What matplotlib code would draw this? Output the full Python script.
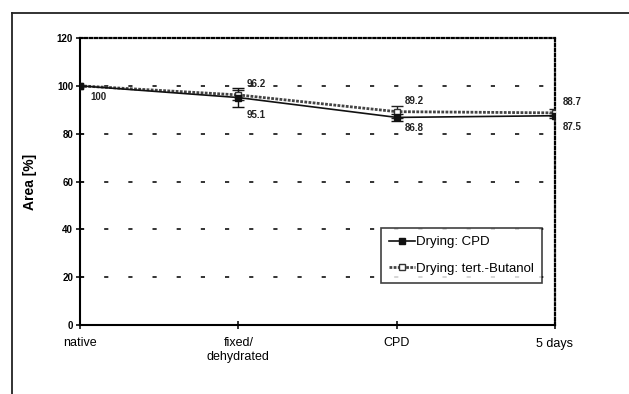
import matplotlib
matplotlib.use("Agg")
import matplotlib.pyplot as plt
from matplotlib.lines import Line2D

categories = ["native", "fixed/\ndehydrated", "CPD", "5 days"]
cpd_values = [100, 95.1, 86.8, 87.5]
cpd_err = [0, 4.0, 1.5, 1.0]
but_values = [100, 96.2, 89.2, 88.7]
but_err = [0, 2.0, 2.5, 1.5]
yticks = [0, 20, 40, 60, 80, 100, 120]

plt.rcParams['font.family'] = ['Liberation Sans', 'DejaVu Sans']

fig = plt.figure(figsize=(6.29, 3.94), dpi=100)
ax = fig.add_axes([80/629, 69/394, 475/629, 287/394])

x = list(range(len(categories)))
ax.errorbar(x, but_values, yerr=but_err, fmt='none', capsize=4,
            ecolor='#222222', elinewidth=1, zorder=3)
ax.errorbar(x, cpd_values, yerr=cpd_err, fmt='none', capsize=4,
            ecolor='#111111', elinewidth=1, zorder=3)
ax.plot(x, but_values, color='#444444', lw=2.0, linestyle=(0, (1, 0.5)),
        marker='s', mfc='white', mec='#333333', ms=4,
        label='Drying: tert.-Butanol', zorder=4)
ax.plot(x, cpd_values, color='#111111', lw=1.2, marker='s', ms=5,
        mfc='#111111', label='Drying: CPD', zorder=5)

ax.set_xlim(0, 3)
ax.set_ylim(0, 120)
ax.set_yticks(yticks)
ax.set_yticklabels([str(v) for v in yticks], fontsize=7, fontweight='bold')
ax.set_xticks(x)
ax.set_xticklabels(categories, fontsize=9)
ax.tick_params(axis='both', direction='inout', length=6, width=1.2, color='#111111')
ax.tick_params(axis='x', pad=6)
ax.tick_params(axis='y', pad=2)

for v in [20, 40, 60, 80, 100]:
    ax.axhline(v, color='#111111', lw=1.2, linestyle=(0, (2.5, 12)), zorder=1)

ax.spines['left'].set_linewidth(1.5)
ax.spines['bottom'].set_linewidth(1.5)
for s in ['top', 'right']:
    ax.spines[s].set_linestyle((0, (1, 1.2)))
    ax.spines[s].set_linewidth(1.6)

ax.set_ylabel('Area [%]', fontsize=10, fontweight='bold', labelpad=14)

# value labels
ann = [
    (0, 100, "100", 10, -14),
    (1, 96.2, "96.2", 8, 8),
    (1, 95.1, "95.1", 8, -20),
    (2, 89.2, "89.2", 8, 8),
    (2, 86.8, "86.8", 8, -14),
    (3, 88.7, "88.7", 8, 8),
    (3, 87.5, "87.5", 8, -14),
]
for xi, yv, txt, dx, dy in ann:
    ax.annotate(txt, (xi, yv), xytext=(dx, dy), textcoords='offset pixels',
                fontsize=7, fontweight='bold', color='#222222')

handles, labels = ax.get_legend_handles_labels()
leg = ax.legend(handles[::-1], labels[::-1], loc='lower right',
                bbox_to_anchor=(542/629, 111/394), bbox_transform=fig.transFigure,
                fontsize=9.5, frameon=True, fancybox=False, edgecolor='#111111',
                handlelength=2.0, handletextpad=0.1, borderpad=0.6, labelspacing=1.1,
                borderaxespad=0)
leg.get_frame().set_linewidth(1.2)

fig.add_artist(Line2D([12/629, 12/629], [0, 1 - 13/394], color='#222222', lw=1.3,
                      transform=fig.transFigure))
fig.add_artist(Line2D([12/629, 1], [1 - 13/394, 1 - 13/394], color='#222222', lw=1.3,
                      transform=fig.transFigure))

fig.savefig('out.png', dpi=100)
